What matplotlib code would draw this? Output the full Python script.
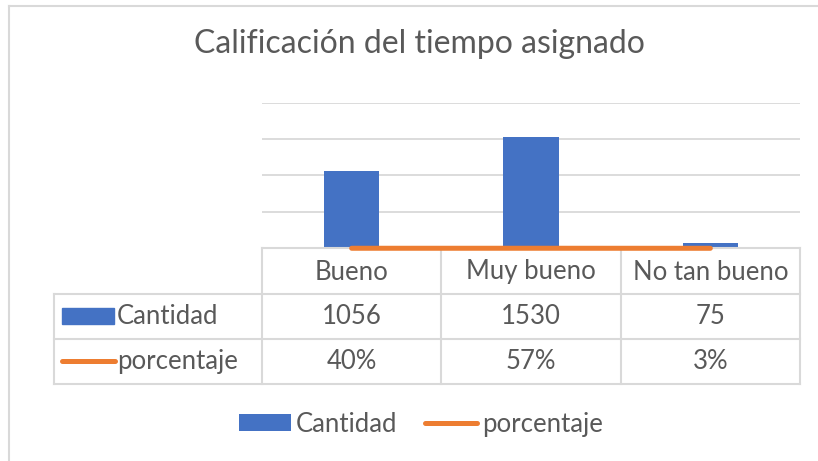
import matplotlib.pyplot as plt
from matplotlib.lines import Line2D
from matplotlib.patches import Rectangle
from matplotlib.transforms import blended_transform_factory

# Datos
categorias = ["Bueno", "Muy bueno", "No tan bueno"]
cantidad = [1056, 1530, 75]
porcentaje = [0.40, 0.57, 0.03]
etiquetas_pct = ["40%", "57%", "3%"]

AZUL = "#4472C4"
NARANJA = "#ED7D31"
TEXTO = "#595959"
GRIS = "#D9D9D9"

plt.rcParams["font.family"] = ["Lato", "DejaVu Sans"]

W, H = 818, 461
fig = plt.figure(figsize=(W / 100, H / 100), dpi=100)


def fx(px):
    return px / W


def fy(py):
    return 1 - py / H


# Marco del grafico (solo visible arriba e izquierda)
fig.add_artist(Line2D([fx(9), fx(9)], [fy(6), 0], color=GRIS, lw=1.5, transform=fig.transFigure))
fig.add_artist(Line2D([fx(9), 1], [fy(6), fy(6)], color=GRIS, lw=1.5, transform=fig.transFigure))

fig.text(fx(419), fy(53), "Calificación del tiempo asignado", ha="center", va="baseline",
         fontsize=23, color=TEXTO)

# Area de trazado
ax = fig.add_axes([fx(262), fy(248.3), fx(800) - fx(262), fy(102.7) - fy(248.3)])
x = list(range(len(categorias)))
barras = ax.bar(x, cantidad, width=0.31, color=AZUL, label="Cantidad", zorder=2)
linea, = ax.plot(x, porcentaje, color=NARANJA, lw=3.6, solid_capstyle="round",
                 label="porcentaje", clip_on=False, zorder=3)
ax.set_xlim(-0.5, 2.5)
ax.set_ylim(0, 2000)
ax.set_yticks([500, 1000, 1500, 2000])
ax.yaxis.grid(True, color=GRIS, lw=1.3)
ax.set_axisbelow(True)
ax.set_xticks([])
ax.tick_params(left=False, labelleft=False)
for s in ax.spines.values():
    s.set_visible(False)

# Tabla de datos
tr = blended_transform_factory(ax.transData, fig.transFigure)
filas = [248.3, 294, 339, 384]
bordes = [-0.5, 0.5, 1.5, 2.5]

ax.add_artist(Line2D([-0.5, 2.5], [fy(filas[0])] * 2, color=GRIS, lw=1.5, transform=tr, clip_on=False))
for yp in filas[1:]:
    fig.add_artist(Line2D([fx(54), fx(800)], [fy(yp)] * 2, color=GRIS, lw=1.5, transform=fig.transFigure))
for b in bordes:
    ax.add_artist(Line2D([b, b], [fy(filas[0]), fy(filas[3])], color=GRIS, lw=1.5, transform=tr, clip_on=False))
fig.add_artist(Line2D([fx(54), fx(54)], [fy(filas[1]), fy(filas[3])], color=GRIS, lw=1.5, transform=fig.transFigure))

tam = 18.5
base = [279.5, 323.5, 368.5]
for i, cat in enumerate(categorias):
    ax.text(i, fy(base[0]), cat, ha="center", va="baseline", fontsize=tam, color=TEXTO, transform=tr)
    ax.text(i, fy(base[1]), str(cantidad[i]), ha="center", va="baseline", fontsize=tam, color=TEXTO, transform=tr)
    ax.text(i, fy(base[2]), etiquetas_pct[i], ha="center", va="baseline", fontsize=tam, color=TEXTO, transform=tr)

fig.add_artist(Rectangle((fx(62), fy(324)), fx(114) - fx(62), fy(308) - fy(324), color=AZUL,
                         transform=fig.transFigure))
fig.add_artist(Line2D([fx(62), fx(115)], [fy(361)] * 2, color=NARANJA, lw=3.6, solid_capstyle="round",
                      transform=fig.transFigure))
fig.text(fx(117), fy(base[1]), "Cantidad", ha="left", va="baseline", fontsize=tam, color=TEXTO)
fig.text(fx(117), fy(base[2]), "porcentaje", ha="left", va="baseline", fontsize=tam, color=TEXTO)

# Leyenda
fig.legend(handles=[barras, linea], loc="center", bbox_to_anchor=(fx(421), fy(424)), ncol=2,
           frameon=False, fontsize=tam, labelcolor=TEXTO, handlelength=2.0, handleheight=0.65,
           handletextpad=0.2, columnspacing=1.1, borderpad=0)

fig.savefig("out.png", dpi=100)
